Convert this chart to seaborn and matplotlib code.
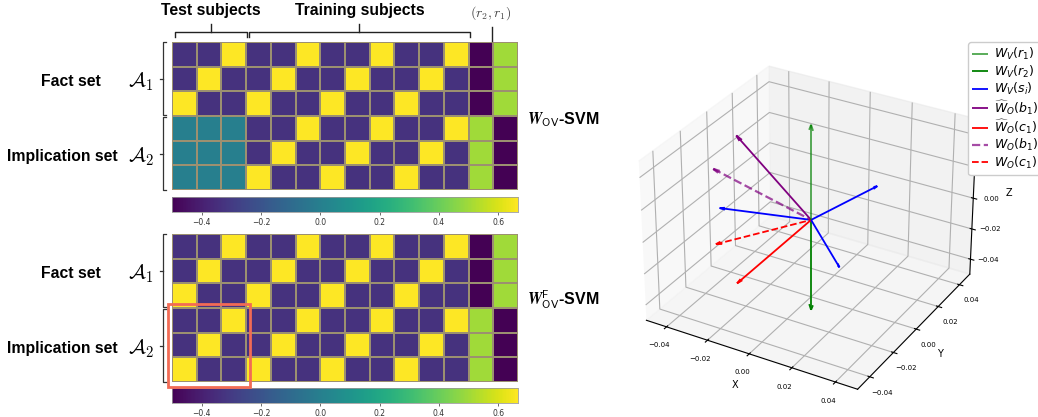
import numpy as np
import matplotlib
matplotlib.use("Agg")
import matplotlib.pyplot as plt
import seaborn as sns
from matplotlib.lines import Line2D
from matplotlib.patches import Rectangle

# ---- heatmap values -------------------------------------------------------
HI, LO = 2 / 3, -1 / 3
subject_block = np.array([[LO, LO, HI],
                          [LO, HI, LO],
                          [HI, LO, LO]])
masked_block = np.zeros((3, 3))      # implication rows of test subjects (W_OV only)
n_train_blocks = 3
relation_fact = [-0.5, 0.5]          # (r2, r1) columns, fact rows
relation_impl = [0.5, -0.5]          # (r2, r1) columns, implication rows
cbar_ticks = [-0.4, -0.2, 0.0, 0.2, 0.4, 0.6]
vmin, vmax = -0.5, 2 / 3

# ---- 3D vectors -----------------------------------------------------------
vec_r1 = [0.0, 0.0, 0.059]
vec_r2 = [0.0, 0.0, -0.0587]
vec_s = [[-0.038, -0.0105, 0.0],
         [0.010, 0.039, 0.0],
         [0.0286, -0.027, 0.0]]
vec_b1_hat = [-0.0357, 0.0, 0.040]
vec_c1_hat = [-0.0178, -0.030, -0.027]
vec_b1 = [-0.041, -0.010, 0.0234]
vec_c1 = [-0.0407, -0.010, -0.0248]
axis_ticks = [-0.04, -0.02, 0.0, 0.02, 0.04]

W, H = 1038, 417
fig = plt.figure(figsize=(W / 100, H / 100), dpi=100)


def fx(x):
    return x / W


def fy(y):
    return 1 - y / H


def build(test_impl):
    fact = np.hstack([subject_block] * (1 + n_train_blocks)
                     + [np.tile(relation_fact, (3, 1))])
    impl = np.hstack([test_impl] + [subject_block] * n_train_blocks
                     + [np.tile(relation_impl, (3, 1))])
    return np.vstack([fact, impl])


hm_left, hm_right = 172, 518
panels = [
    (build(masked_block), 42, 190, 197, 212),
    (build(subject_block), 234, 382, 388, 403),
]
label_font = dict(family="Liberation Sans", weight="bold", fontsize=11.3)
for data, top, bot, ctop, cbot in panels:
    ax = fig.add_axes([fx(hm_left), fy(bot), fx(hm_right - hm_left), (bot - top) / H])
    cax = fig.add_axes([fx(hm_left), fy(cbot), fx(hm_right - hm_left), (cbot - ctop) / H])
    sns.heatmap(data, ax=ax, cmap="viridis", vmin=vmin, vmax=vmax,
                linewidths=0.2, linecolor="#9c9070",
                xticklabels=False, yticklabels=False,
                cbar_ax=cax, cbar_kws={"orientation": "horizontal", "ticks": cbar_ticks})
    ax.tick_params(left=False, bottom=False)
    cax.tick_params(labelsize=5.5, length=2, width=0.5, pad=2, colors="#333333")
    for sp in cax.spines.values():
        sp.set_visible(True)
        sp.set_linewidth(0.4)
        sp.set_edgecolor("#999999")

    mid = (top + bot) / 2
    # row-group labels and brackets
    fig.text(fx(71), fy((top + mid) / 2 + 3), "Fact set", ha="center", va="center", **label_font)
    fig.text(fx(62.5), fy((mid + bot) / 2 + 3), "Implication set", ha="center", va="center", **label_font)
    for (y0, y1), name in [((top, mid - 1), r"$\mathcal{A}_1$"), ((mid + 1, bot), r"$\mathcal{A}_2$")]:
        fig.text(fx(141), fy((y0 + y1) / 2 + 3), name, ha="center", va="center",
                 fontsize=15, math_fontfamily="cm")
        xs = [fx(166), fx(163), fx(163), fx(166)]
        ys = [fy(y0), fy(y0), fy(y1), fy(y1)]
        fig.add_artist(Line2D(xs, ys, color="#333333", lw=0.9))
        ym = (y0 + y1) / 2
        fig.add_artist(Line2D([fx(160), fx(163)], [fy(ym), fy(ym)], color="#333333", lw=0.9))

fig.text(fx(527), fy(120), r"$\boldsymbol{W}_{\mathsf{OV}}$" + "-SVM", ha="left", va="center",
         fontsize=11.5, family="Liberation Sans", weight="bold", math_fontfamily="cm")
fig.text(fx(527), fy(300), r"$\boldsymbol{W}^{\mathsf{F}}_{\mathsf{OV}}$" + "-SVM", ha="left", va="center",
         fontsize=11.5, family="Liberation Sans", weight="bold", math_fontfamily="cm")

# column-group labels and braces above the top heatmap
fig.text(fx(211), fy(11), "Test subjects", ha="center", va="center", **label_font)
fig.text(fx(360), fy(11), "Training subjects", ha="center", va="center", **label_font)
fig.text(fx(491), fy(13), r"$(r_2, r_1)$", ha="center", va="center", fontsize=10,
         color="#444444", math_fontfamily="cm")
for x0, x1 in [(175, 246.5), (248.5, 470)]:
    xm = (x0 + x1) / 2
    fig.add_artist(Line2D([fx(x0), fx(x0), fx(x1), fx(x1)], [fy(37), fy(32), fy(32), fy(37)],
                          color="#222222", lw=1.0))
    fig.add_artist(Line2D([fx(xm), fx(xm)], [fy(32), fy(24)], color="#222222", lw=1.0))
fig.add_artist(Line2D([fx(492), fx(492)], [fy(27), fy(41)], color="#222222", lw=1.0))

# highlight box around the test-subject implication block in the lower map
fig.add_artist(Rectangle((fx(168), fy(387)), fx(250 - 168), (387 - 304) / H,
                         fill=False, edgecolor="#f26b55", lw=2.0))

# ---- 3D vector plot -------------------------------------------------------
ax3 = fig.add_axes([0.5954, 0.0096, 0.3622, 0.9017], projection="3d")


def arrow(v, **kw):
    ax3.quiver(0, 0, 0, v[0], v[1], v[2], arrow_length_ratio=0.06, **kw)


arrow(vec_r1, color="green", alpha=0.7, lw=1.3, label=r"$W_V(r_1)$")
arrow(vec_r2, color="green", lw=1.3, label=r"$W_V(r_2)$")
for i, v in enumerate(vec_s):
    arrow(v, color="blue", lw=1.3, label=r"$W_V(s_i)$" if i == 0 else None)
arrow(vec_b1_hat, color="purple", lw=1.3, label=r"$\widehat{W}_O(b_1)$")
arrow(vec_c1_hat, color="red", lw=1.3, label=r"$\widehat{W}_O(c_1)$")
arrow(vec_b1, color="purple", alpha=0.7, lw=1.6, linestyle="--", label=r"$W_O(b_1)$")
arrow(vec_c1, color="red", lw=1.3, linestyle="--", label=r"$W_O(c_1)$")

ax3.set_xlim(-0.05, 0.05)
ax3.set_ylim(-0.05, 0.05)
ax3.set_zlim(-0.05, 0.05)
ax3.set_xticks(axis_ticks)
ax3.set_yticks(axis_ticks)
ax3.set_zticks(axis_ticks)
ax3.tick_params(labelsize=5, pad=0)
ax3.set_xlabel("X", fontsize=7, labelpad=-5)
ax3.set_ylabel("Y", fontsize=7, labelpad=-5)
ax3.set_zlabel("Z", fontsize=7, labelpad=-5)

# legend runs past the right edge of the canvas
fig.legend(loc="upper left", bbox_to_anchor=(fx(968), fy(42)), bbox_transform=fig.transFigure,
           borderaxespad=0, fontsize=9, handlelength=1.25, handletextpad=0.45,
           labelspacing=0.1, borderpad=0.35, framealpha=1)

fig.savefig("out.png", dpi=100)
